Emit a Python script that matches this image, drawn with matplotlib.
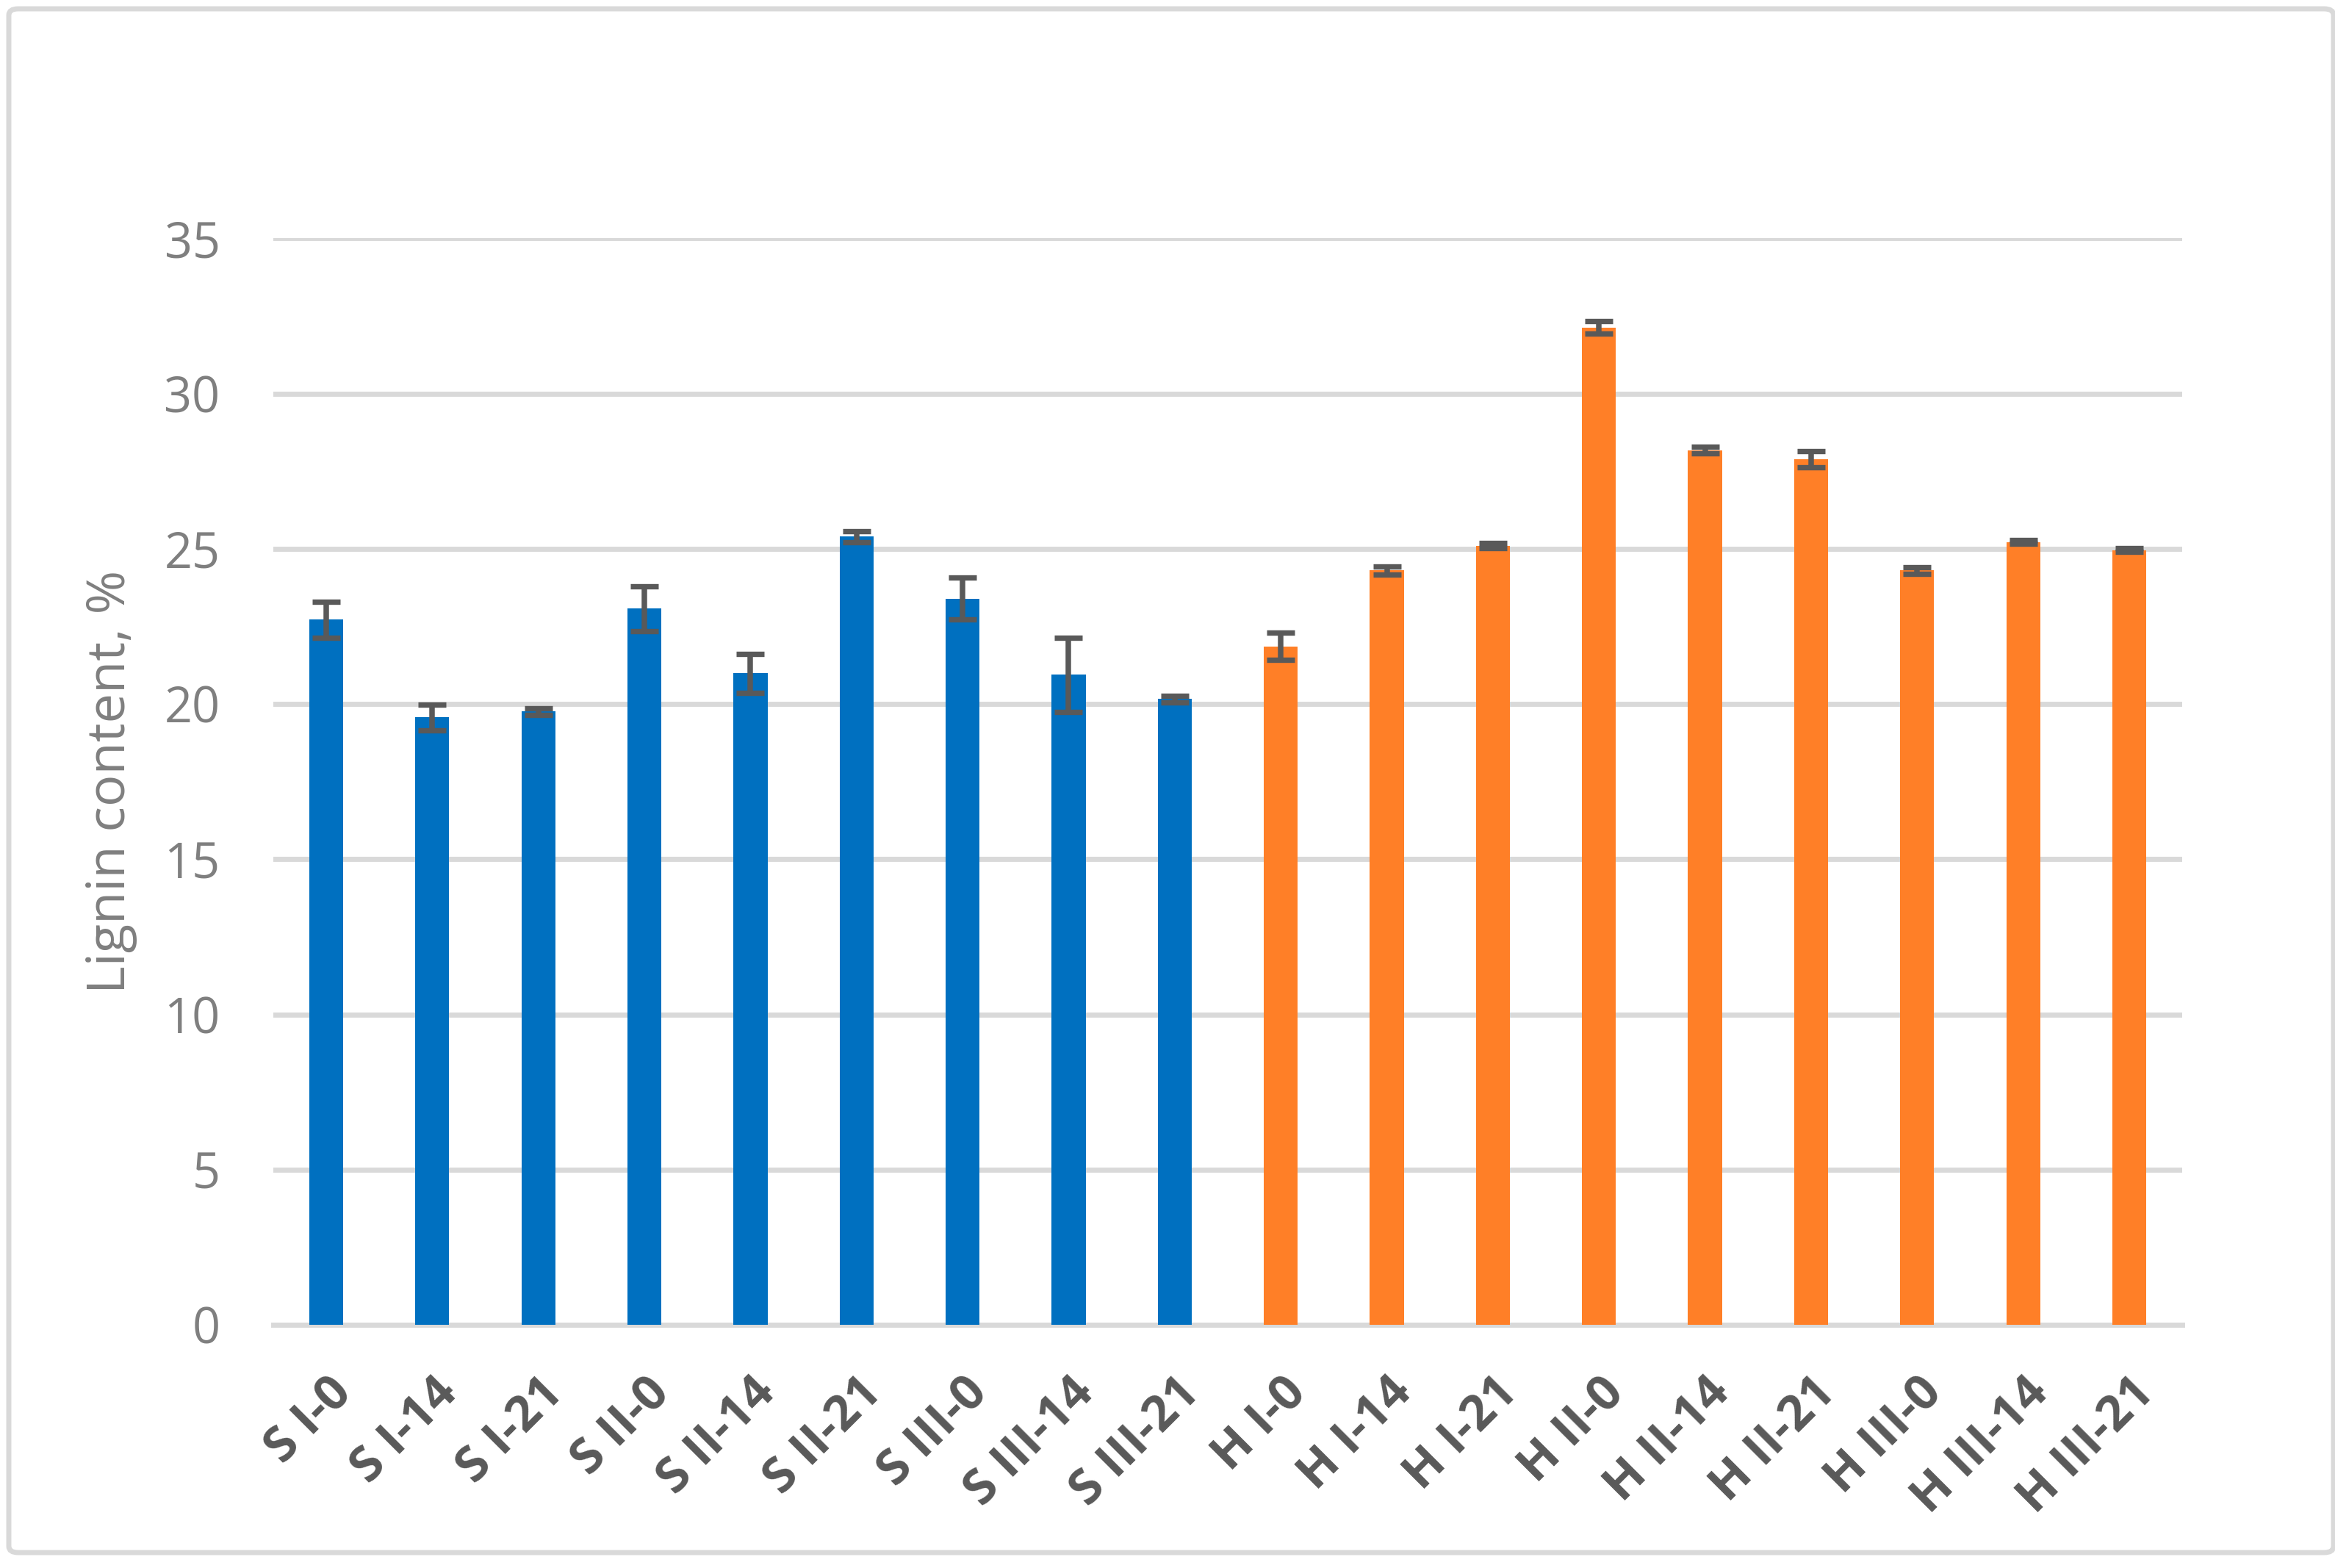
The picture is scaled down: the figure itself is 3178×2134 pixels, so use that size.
import numpy as np
import matplotlib.pyplot as plt
from matplotlib.patches import FancyBboxPatch

categories = ["S I-0", "S I-14", "S I-21", "S II-0", "S II-14", "S II-21",
              "S III-0", "S III-14", "S III-21",
              "H I-0", "H I-14", "H I-21", "H II-0", "H II-14", "H II-21",
              "H III-0", "H III-14", "H III-21"]
lignin = [22.72, 19.57, 19.76, 23.07, 20.99, 25.39, 23.40, 20.94, 20.16,
          21.86, 24.30, 25.10, 32.13, 28.18, 27.88, 24.30, 25.22, 24.96]
errors = [0.58, 0.42, 0.10, 0.73, 0.63, 0.17, 0.67, 1.20, 0.10,
          0.43, 0.12, 0.08, 0.20, 0.11, 0.26, 0.10, 0.05, 0.05]
groups = ["S"] * 9 + ["H"] * 9
group_colors = {"S": "#0070C0", "H": "#FF7F27"}
yticks = [0, 5, 10, 15, 20, 25, 30, 35]


def main():
    plt.rcParams['font.family'] = ['Open Sans', 'DejaVu Sans']

    fig = plt.figure(figsize=(31.78, 21.34), dpi=100)
    ax = fig.add_axes([0.117, 0.155, 0.8176, 0.693])

    # outer chart border
    border = FancyBboxPatch((12 / 3178, 1 - 2113 / 2134),
                            (3176 - 12) / 3178, (2113 - 12) / 2134,
                            boxstyle="round,pad=0,rounding_size=0.004",
                            transform=fig.transFigure, fill=False,
                            edgecolor="#D9D9D9", linewidth=5, clip_on=False)
    fig.patches.append(border)

    x = np.arange(len(categories))
    colors = [group_colors[g] for g in groups]
    ax.bar(x, lignin, width=0.32, color=colors, zorder=3)
    ax.errorbar(x, lignin, yerr=errors, fmt='none', ecolor="#595959",
                elinewidth=5.4, capsize=14, capthick=5.3, zorder=4)

    ax.set_xlim(-0.5, len(categories) - 0.5)
    ax.set_ylim(0, 35)
    ax.set_yticks(yticks)
    ax.set_yticklabels([str(v) for v in yticks])
    ax.yaxis.grid(True, color="#D9D9D9", linewidth=5, zorder=0)
    ax.set_axisbelow(True)

    for s in ['top', 'right', 'left']:
        ax.spines[s].set_visible(False)
    ax.spines['bottom'].set_color("#D9D9D9")
    ax.spines['bottom'].set_linewidth(5)

    ax.tick_params(axis='y', length=0, pad=52, labelsize=48,
                   labelcolor="#7F7F7F")
    ax.tick_params(axis='x', length=0, pad=42)
    ax.set_xticks(x)
    ax.set_xticklabels(categories, rotation=45, ha='right',
                       rotation_mode='anchor', fontsize=48,
                       fontweight='bold', color="#595959")

    ax.set_ylabel("Lignin content, %", fontsize=52, color="#7F7F7F",
                  labelpad=26)

    fig.savefig("out.png", dpi=100)


if __name__ == "__main__":
    main()
